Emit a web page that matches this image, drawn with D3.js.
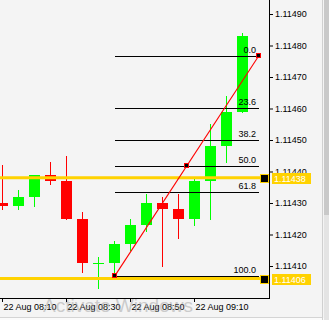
<!DOCTYPE html>
<html>
<head>
<meta charset="utf-8">
<script src="https://cdn.jsdelivr.net/npm/d3@7"></script>
<style>
  body { margin: 0; background: #f4f4f4; }
  svg { display: block; }
  text { font-family: "Liberation Sans", Arial, sans-serif; }
</style>
</head>
<body>
<div id="chart"></div>
<script>
// EURUSD M5 candles + fibo retracement
var times  = ["08:10","08:15","08:20","08:25","08:30","08:35","08:40","08:45",
              "08:50","08:55","09:00","09:05","09:10","09:15","09:20","09:25"];
var opens  = [1.11430,1.11429,1.11432,1.11439,1.11437,1.11425,1.11411,1.11411,
              1.11417,1.11423,1.11430,1.11428,1.11425,1.11437,1.11448,1.11459];
var highs  = [1.11442,1.11434,1.11439,1.11443,1.11445,1.11427,1.11413,1.11418,
              1.11425,1.11433,1.11432,1.11433,1.11438,1.11455,1.11464,1.11484];
var lows   = [1.11428,1.11428,1.11429,1.11436,1.11425,1.11408,1.11403,1.11407,
              1.11415,1.11421,1.11410,1.11419,1.11423,1.11425,1.11443,1.11459];
var closes = [1.11429,1.11432,1.11439,1.11437,1.11425,1.11411,1.11411,1.11417,
              1.11423,1.11430,1.11428,1.11425,1.11437,1.11448,1.11459,1.11483];

var priceTicks = [1.11410,1.11420,1.11430,1.11440,1.11450,1.11460,1.11470,1.11480,1.11490];
var timeTicks  = ["08:10","08:30","08:50","09:10"];

var fibStart = {time: "08:45", price: 1.114067};
var fibEnd   = {time: "09:30", price: 1.114766};
var fibLevels = [0, 23.6, 38.2, 50.0, 61.8, 100.0];

var hLines = [1.11438, 1.11406];

// 1. size
var W = 329, H = 320;
var plotRight = 269, plotBottom = 298;

function toDate(s) {
  var p = s.split(":");
  return new Date(2019, 7, 22, +p[0], +p[1]);
}

// 2. scales (5 min = 16px)
var x = d3.scaleTime()
  .domain([toDate("08:10"), toDate("09:10")])
  .range([2, 194]);
var y = d3.scaleLinear()
  .domain([1.11490, 1.11410])
  .range([14, 266]);

var candles = times.map(function(t, i) {
  return {t: toDate(t), o: opens[i], h: highs[i], l: lows[i], c: closes[i]};
});

var svg = d3.select("#chart").append("svg")
  .attr("width", W).attr("height", H);

svg.append("rect").attr("width", W).attr("height", H).attr("fill", "#f4f4f4");
// bottom strip + right scrollbar
svg.append("rect").attr("x", 0).attr("y", 318).attr("width", W).attr("height", 2).attr("fill", "#fbfbfb");
svg.append("line").attr("x1", 0).attr("x2", 323).attr("y1", 317.5).attr("y2", 317.5).attr("stroke", "#d4d4d4");
svg.append("line").attr("x1", 322.5).attr("x2", 322.5).attr("y1", 0).attr("y2", H).attr("stroke", "#d0d0d0");
svg.append("rect").attr("x", 324).attr("y", 0).attr("width", 5).attr("height", 215).attr("fill", "#c9c9c9");
svg.append("rect").attr("x", 324).attr("y", 215).attr("width", 5).attr("height", 105).attr("fill", "#e4e4e4");

var plot = svg.append("g");

// 3. candles
var cg = plot.selectAll("g.candle").data(candles).enter().append("g")
  .attr("class", "candle");

cg.append("line")
  .attr("x1", function(d) { return Math.round(x(d.t)) + 0.5; })
  .attr("x2", function(d) { return Math.round(x(d.t)) + 0.5; })
  .attr("y1", function(d) { return Math.round(y(d.h)); })
  .attr("y2", function(d) { return Math.round(y(d.l)) + 1; })
  .attr("stroke", function(d) { return d.c >= d.o ? "#00ff00" : "#ff0000"; });

cg.append("rect")
  .attr("x", function(d) { return Math.round(x(d.t)) - 5; })
  .attr("width", 11)
  .attr("y", function(d) { return Math.round(y(Math.max(d.o, d.c))); })
  .attr("height", function(d) {
    return Math.max(1, Math.round(y(Math.min(d.o, d.c))) - Math.round(y(Math.max(d.o, d.c))));
  })
  .attr("fill", function(d) { return d.c >= d.o ? "#00ff00" : "#ff0000"; });

// 4. yellow horizontal lines
hLines.forEach(function(p) {
  plot.append("line")
    .attr("x1", 0).attr("x2", 262)
    .attr("y1", y(p)).attr("y2", y(p))
    .attr("stroke", "#ffd200").attr("stroke-width", 3);
});

// 5. fibo
var fx1 = Math.round(x(toDate(fibStart.time))), fx2 = Math.round(x(toDate(fibEnd.time)));
var fy1 = y(fibStart.price), fy2 = y(fibEnd.price);
var range = fibEnd.price - fibStart.price;

var fib = plot.selectAll("g.fib").data(fibLevels).enter().append("g").attr("class", "fib");
fib.append("line")
  .attr("x1", fx1 + 1).attr("x2", fx2 + 1)
  .attr("y1", function(d) { return Math.round(y(fibEnd.price - range * d / 100)) + 0.5; })
  .attr("y2", function(d) { return Math.round(y(fibEnd.price - range * d / 100)) + 0.5; })
  .attr("stroke", "#000");
fib.append("text")
  .attr("x", fx2 - 2)
  .attr("y", function(d) { return Math.round(y(fibEnd.price - range * d / 100)) - 3; })
  .attr("text-anchor", "end")
  .style("font-size", "9px")
  .text(function(d) { return d.toFixed(1); });

plot.append("line")
  .attr("x1", fx1 + 0.5).attr("y1", fy1)
  .attr("x2", fx2 + 0.5).attr("y2", fy2)
  .attr("stroke", "#ff0000").attr("stroke-width", 1.1);

[[fx1, fy1], [(fx1 + fx2) / 2, (fy1 + fy2) / 2], [fx2, fy2]].forEach(function(pt) {
  plot.append("rect")
    .attr("x", Math.round(pt[0]) - 1.5).attr("y", Math.round(pt[1]) - 2.5)
    .attr("width", 4).attr("height", 4)
    .attr("fill", "#000").attr("stroke", "#ff0000");
});

// 6. axes
var yAxis = d3.axisRight(y).tickValues(priceTicks).tickFormat(d3.format(".5f"))
  .tickSize(4).tickPadding(2).tickSizeOuter(0);
var ga = svg.append("g").attr("transform", "translate(" + plotRight + ",0)").call(yAxis);
ga.select(".domain").remove();
ga.selectAll("text").style("font-size", "9px").attr("fill", "#000").attr("font-family", null);

var xAxis = d3.axisBottom(x).tickValues(timeTicks.map(toDate))
  .tickFormat(d3.timeFormat("%d %b %H:%M")).tickSize(4).tickSizeOuter(0);
var gx = svg.append("g").attr("transform", "translate(0," + plotBottom + ")").call(xAxis);
gx.select(".domain").remove();
gx.selectAll("text").style("font-size", "9px").attr("font-family", null)
  .attr("text-anchor", "start").attr("x", 1).attr("y", 6).attr("dy", "0.71em");

svg.append("line").attr("x1", plotRight + 0.5).attr("x2", plotRight + 0.5)
  .attr("y1", 0).attr("y2", plotBottom + 1).attr("stroke", "#000");
svg.append("line").attr("x1", 0).attr("x2", plotRight + 1)
  .attr("y1", plotBottom + 0.5).attr("y2", plotBottom + 0.5).attr("stroke", "#000");

// 7. price markers on the axis
hLines.forEach(function(p) {
  var yy = Math.round(y(p));
  svg.append("rect")
    .attr("x", 260.5).attr("y", yy - 3.5).attr("width", 8).attr("height", 8)
    .attr("fill", "#000").attr("stroke", "#ffd200");
  svg.append("rect")
    .attr("x", 272).attr("y", yy - 5).attr("width", 39).attr("height", 11)
    .attr("fill", "#ffd200");
  svg.append("text")
    .attr("x", 274).attr("y", yy + 4)
    .attr("fill", "#fff").style("font-size", "9px")
    .text(d3.format(".5f")(p));
});

// windows watermark
svg.append("text")
  .attr("x", 43).attr("y", 312)
  .style("font-size", "19px")
  .attr("fill", "#9a9a9a").attr("opacity", 0.45)
  .text("Activate Windows");
</script>
</body>
</html>
